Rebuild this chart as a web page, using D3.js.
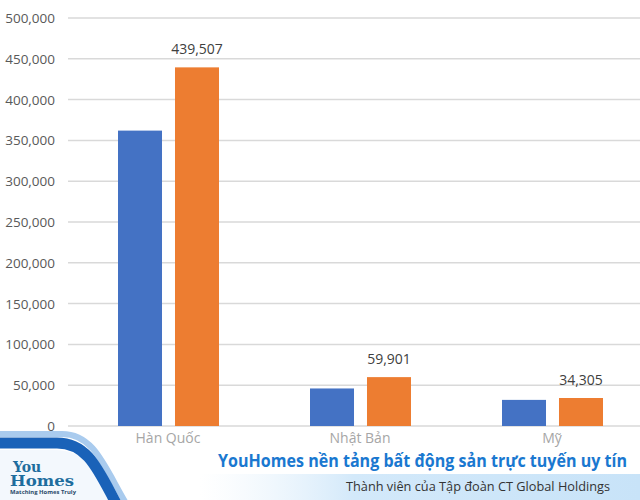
<!DOCTYPE html>
<html>
<head>
<meta charset="utf-8">
<script src="https://cdn.jsdelivr.net/npm/d3@7"></script>
<style>
  body { margin: 0; background: #fff; }
  svg { display: block; font-family: "Open Sans", "Noto Sans", sans-serif; }
</style>
</head>
<body>
<div id="chart"></div>
<script>
var categories = ["Hàn Quốc", "Nhật Bản", "Mỹ"];
var seriesBlue = [362000, 46000, 32000];
var seriesOrange = [439507, 59901, 34305];
var orangeLabels = ["439,507", "59,901", "34,305"];
var yTicks = [0, 50000, 100000, 150000, 200000, 250000, 300000, 350000, 400000, 450000, 500000];

var width = 640, height = 500;

var svg = d3.select("#chart").append("svg")
  .attr("width", width)
  .attr("height", height);

var y = d3.scaleLinear().domain([0, 500000]).range([426, 18]);
var x0 = d3.scalePoint().domain(categories).range([72, 648]).padding(0.5);
var x1 = d3.scaleBand().domain([0, 1]).range([-50, 51]).paddingInner(0.228);

// gridlines + y labels
svg.append("g").selectAll("line")
  .data(yTicks)
  .enter().append("line")
  .attr("x1", 68).attr("x2", 640)
  .attr("y1", function(d) { return y(d); })
  .attr("y2", function(d) { return y(d); })
  .attr("stroke", "#d9d9d9")
  .attr("stroke-width", 1.5);

svg.append("g").selectAll("text")
  .data(yTicks)
  .enter().append("text")
  .attr("x", 55)
  .attr("y", function(d) { return y(d) + 5; })
  .attr("text-anchor", "end")
  .attr("fill", "#595959")
  .attr("font-size", 13.5)
  .text(function(d) { return d3.format(",")(d); });

// bars
var groups = svg.append("g").selectAll("g")
  .data(categories)
  .enter().append("g")
  .attr("transform", function(d) { return "translate(" + x0(d) + ",0)"; });

groups.append("rect")
  .attr("x", x1(0))
  .attr("width", x1.bandwidth())
  .attr("y", function(d, i) { return y(seriesBlue[i]); })
  .attr("height", function(d, i) { return y(0) - y(seriesBlue[i]); })
  .attr("fill", "#4472c4");

groups.append("rect")
  .attr("x", x1(1))
  .attr("width", x1.bandwidth())
  .attr("y", function(d, i) { return y(seriesOrange[i]); })
  .attr("height", function(d, i) { return y(0) - y(seriesOrange[i]); })
  .attr("fill", "#ed7d31");

groups.append("text")
  .attr("x", x1(1) + x1.bandwidth() / 2)
  .attr("y", function(d, i) { return y(seriesOrange[i]) - 13; })
  .attr("text-anchor", "middle")
  .attr("fill", "#404040")
  .attr("font-size", 14)
  .text(function(d, i) { return orangeLabels[i]; });

groups.append("text")
  .attr("x", 0)
  .attr("y", 443)
  .attr("text-anchor", "middle")
  .attr("fill", "#a6a6a6")
  .attr("font-size", 14)
  .text(function(d) { return d; });

// footer watermark
var defs = svg.append("defs");
var grad = defs.append("linearGradient").attr("id", "band")
  .attr("x1", "0").attr("x2", "1").attr("y1", "0").attr("y2", "0");
grad.append("stop").attr("offset", "0").attr("stop-color", "#eaf4fc").attr("stop-opacity", 0);
grad.append("stop").attr("offset", "0.35").attr("stop-color", "#d3e9fa");
grad.append("stop").attr("offset", "1").attr("stop-color", "#c8e3f8");

svg.append("rect")
  .attr("x", 200).attr("y", 474).attr("width", 440).attr("height", 26)
  .attr("fill", "url(#band)");

svg.append("path")
  .attr("d", "M0,450 L55,450 C85,450 95,470 112,500 L0,500 Z")
  .attr("fill", "#f3f8fd");
svg.append("path")
  .attr("d", "M-5,434 L62,434 C94,434 104,466 127,505")
  .attr("fill", "none").attr("stroke", "#a9cbee").attr("stroke-width", 6);
svg.append("path")
  .attr("d", "M-5,443 L57,443 C88,443 98,470 117,505")
  .attr("fill", "none").attr("stroke", "#1a62b8").attr("stroke-width", 11);

var logo = svg.append("g").attr("fill", "#1e6d9e")
  .attr("font-family", "'DejaVu Serif', 'Liberation Serif', serif")
  .attr("font-weight", "bold");
logo.append("text").attr("x", 13).attr("y", 472).attr("font-size", 14).text("You");
logo.append("text").attr("x", 10).attr("y", 486).attr("font-size", 14)
  .attr("textLength", 64).attr("lengthAdjust", "spacingAndGlyphs").text("Homes");
svg.append("text").attr("x", 10).attr("y", 494).attr("font-size", 5.5)
  .attr("fill", "#2b4a6a").attr("font-weight", "bold")
  .attr("textLength", 66).attr("lengthAdjust", "spacingAndGlyphs")
  .text("Matching Homes Truly");

svg.append("text")
  .attr("x", 218).attr("y", 467)
  .attr("font-size", 17).attr("font-weight", "bold")
  .attr("fill", "#1a78d0")
  .attr("textLength", 409).attr("lengthAdjust", "spacingAndGlyphs")
  .text("YouHomes nền tảng bất động sản trực tuyến uy tín");

svg.append("text")
  .attr("x", 346).attr("y", 491)
  .attr("font-size", 13)
  .attr("fill", "#333")
  .attr("textLength", 264).attr("lengthAdjust", "spacingAndGlyphs")
  .text("Thành viên của Tập đoàn CT Global Holdings");
</script>
</body>
</html>
